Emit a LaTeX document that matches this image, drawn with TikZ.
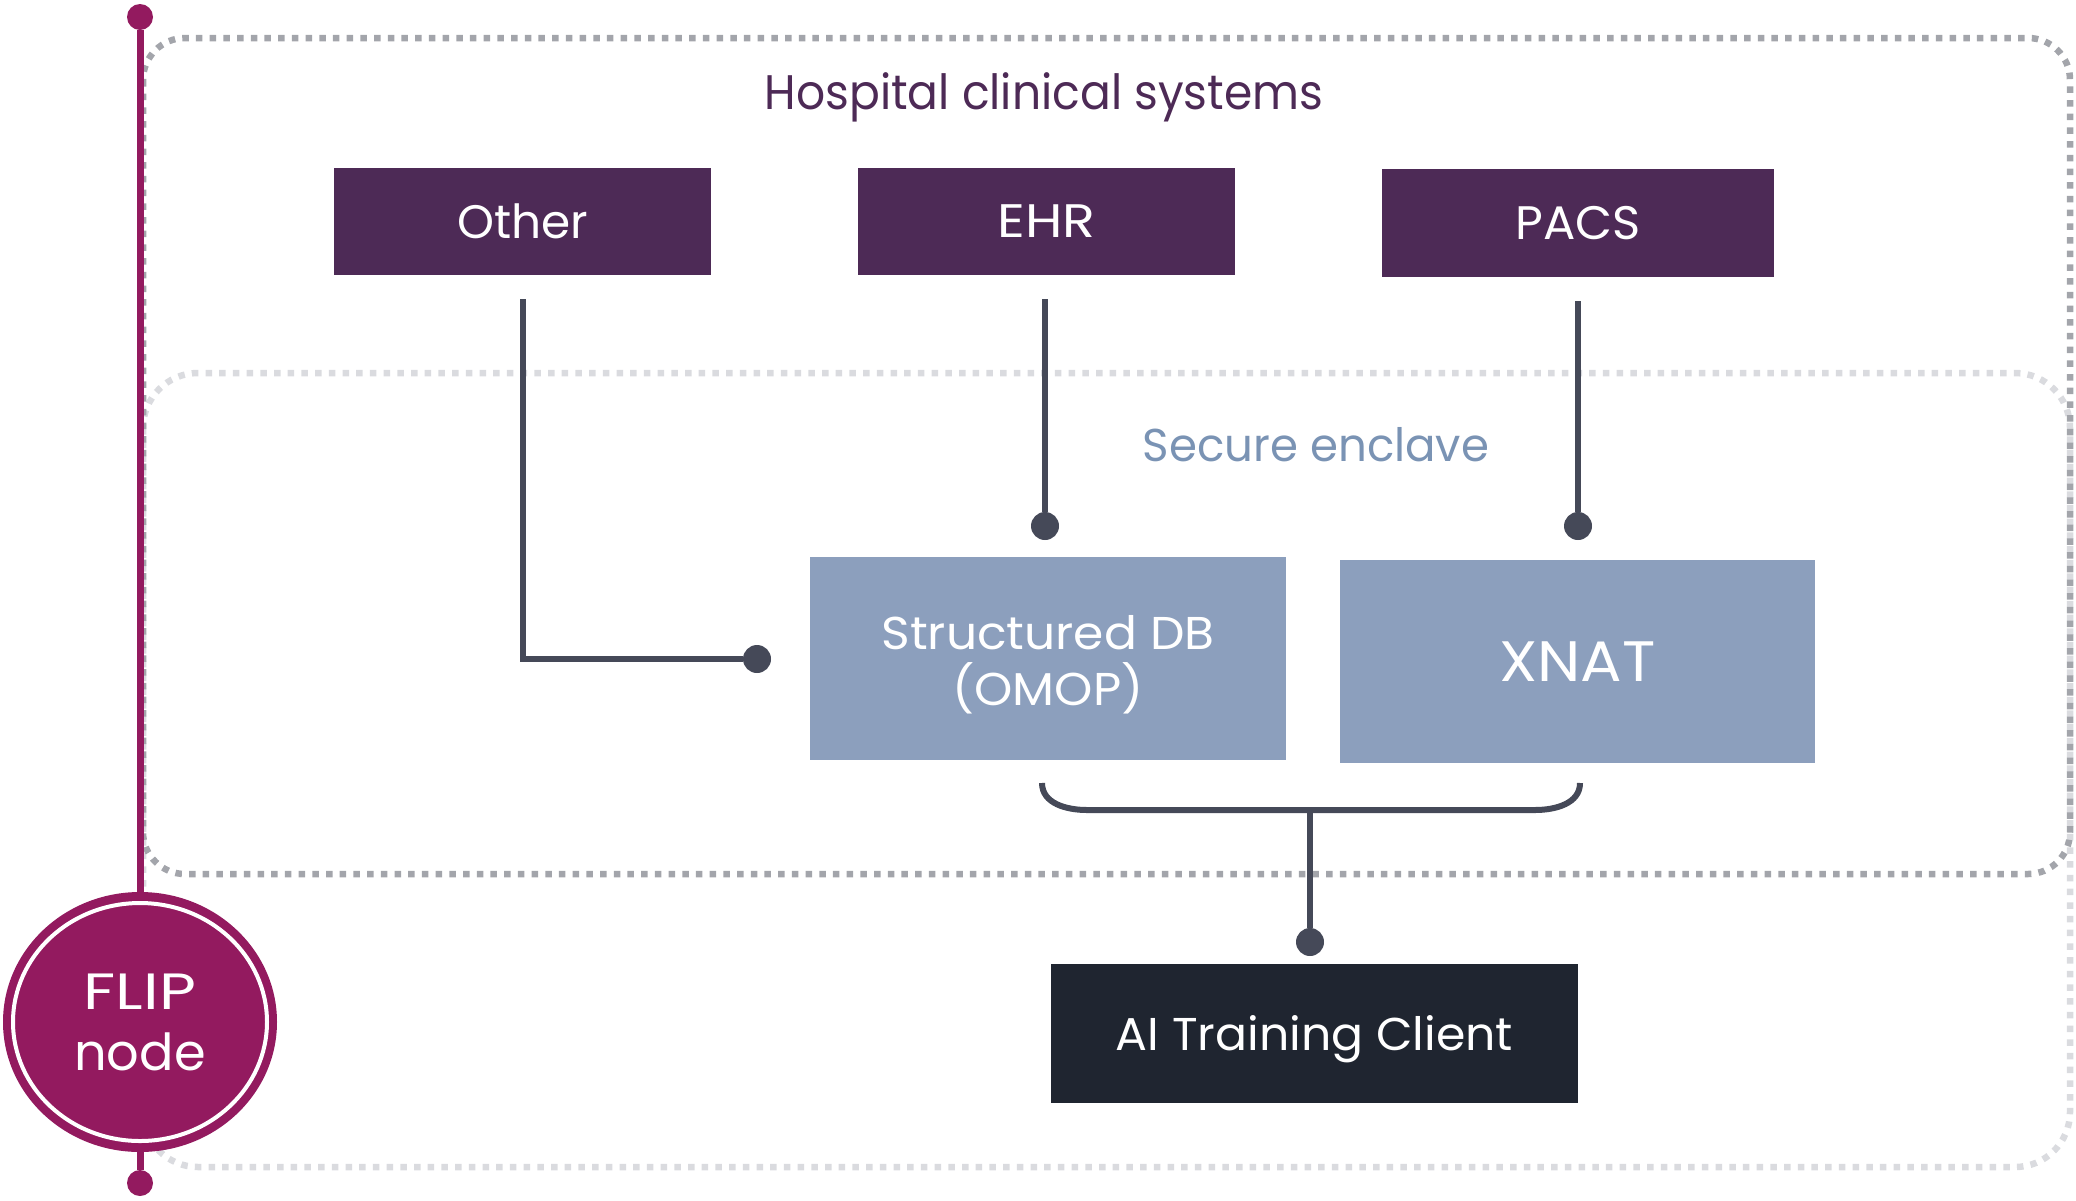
\documentclass[tikz,border=0pt]{standalone}
\usepackage{fontspec}
\setmainfont{Poppins}
\usepackage{graphicx}
\usetikzlibrary{shapes.geometric}
\definecolor{sysc}{HTML}{4D2A56}
\definecolor{flipc}{HTML}{931A5F}
\definecolor{connc}{HTML}{454958}
\definecolor{dbc}{HTML}{8C9FBD}
\definecolor{encc}{HTML}{7A93B4}
\definecolor{aic}{HTML}{1F2530}
\definecolor{darkdot}{HTML}{A3A5AB}
\definecolor{lightdot}{HTML}{DADBDF}
\newcommand{\hsq}[2][1]{\scalebox{#1}[1]{#2}}
\newcommand{\lowr}[1]{\raisebox{-6pt}[\height][\depth]{#1}}
\begin{document}
\begin{tikzpicture}[x=1pt,y=-1pt,
  dotline/.style={line width=6.5pt, dash pattern=on 6.5pt off 7.2pt},
  sysbox/.style={fill=sysc, text=white, inner sep=0pt, font=\fontsize{47}{56}\selectfont},
  dbbox/.style={fill=dbc, text=white, inner sep=0pt, align=center, font=\fontsize{46}{56}\selectfont},
  aibox/.style={fill=aic, text=white, inner sep=0pt, font=\fontsize{46}{56}\selectfont},
  conn/.style={draw=connc, line width=6pt},
  cdot/.style={circle, fill=connc, inner sep=0pt, minimum size=28pt},
  pdot/.style={circle, fill=flipc, inner sep=0pt, minimum size=26pt},
  flipline/.style={draw=flipc, line width=7pt},
  label/.style={inner sep=0pt}
]
\useasboundingbox (0,0) rectangle (2076,1200);

% dotted frames
\draw[dotline, draw=lightdot, rounded corners=55pt] (143,373) rectangle (2070,1167);
\draw[dotline, draw=darkdot, rounded corners=42pt] (143,38) rectangle (2070,874);

% titles
\node[label, text=sysc, font=\fontsize{48.5}{56}\selectfont] (title) at (1044,97) {\hsq[0.94]{Hospital clinical systems}};
\node[label, text=encc, font=\fontsize{46}{56}\selectfont] (enclave) at (1316,445) {\hsq[0.98]{Secure enclave}};

% source systems
\node[sysbox, minimum width=377pt, minimum height=107pt] (other) at (522.5,221.5) {\hsq[1.0]{Other}};
\node[sysbox, minimum width=377pt, minimum height=107pt] (ehr) at (1046.5,221.5) {\hsq[1.15]{EHR}};
\node[sysbox, minimum width=392pt, minimum height=108pt] (pacs) at (1578,223) {\hsq[1.02]{PACS}};

% enclave stores
\node[dbbox, minimum width=476pt, minimum height=203pt] (db) at (1048,658.5) {\lowr{\hsq[1.06]{Structured DB}}\\\lowr{\hsq[1.06]{(OMOP)}}};
\node[dbbox, minimum width=475pt, minimum height=203pt, font=\fontsize{57}{60}\selectfont] (xnat) at (1577.5,661.5) {\hsq[1.08]{XNAT}};

% AI client
\node[aibox, minimum width=527pt, minimum height=139pt] (ai) at (1314.5,1033.5) {\lowr{\hsq[1.03]{AI Training Client}}};

% connectors
\node[cdot] (dotO) at (757,659) {};
\node[cdot] (dotE) at (1045,526) {};
\node[cdot] (dotP) at (1578,526) {};
\node[cdot] (dotA) at (1310,942) {};
\draw[conn] (other.south) ++(0,24) |- (dotO);
\draw[conn] (dotE |- ehr.south) ++(0,24) -- (dotE);
\draw[conn] (pacs.south) ++(0,24) -- (dotP);

\coordinate (bl) at (1042,783);
\coordinate (br) at (1580,783);
\coordinate (bla) at (1087,810);
\coordinate (bra) at (1535,810);
\coordinate (bm) at (1310,810);
\draw[conn] (bl) to[out=-90,in=180] (bla) -- (bra) to[out=0,in=-90] (br);
\draw[conn] (bm) -- (dotA);

% FLIP node
\node[pdot] (topdot) at (140,17) {};
\node[pdot] (botdot) at (140,1183) {};
\node[ellipse, fill=flipc, minimum width=274pt, minimum height=260pt, inner sep=0pt] (flipouter) at (140,1022) {};
\draw[flipline] (topdot) -- (flipouter.north);
\draw[flipline] (flipouter.south) -- (botdot);
\node[ellipse, fill=flipc, draw=white, line width=4pt, minimum width=254pt, minimum height=238pt, inner sep=0pt,
      text=white, align=center, font=\fontsize{51}{61}\selectfont] (flip) at (140,1022) {\hsq[1.25]{FLIP}\\\hsq[1.0]{node}};
\end{tikzpicture}
\end{document}
